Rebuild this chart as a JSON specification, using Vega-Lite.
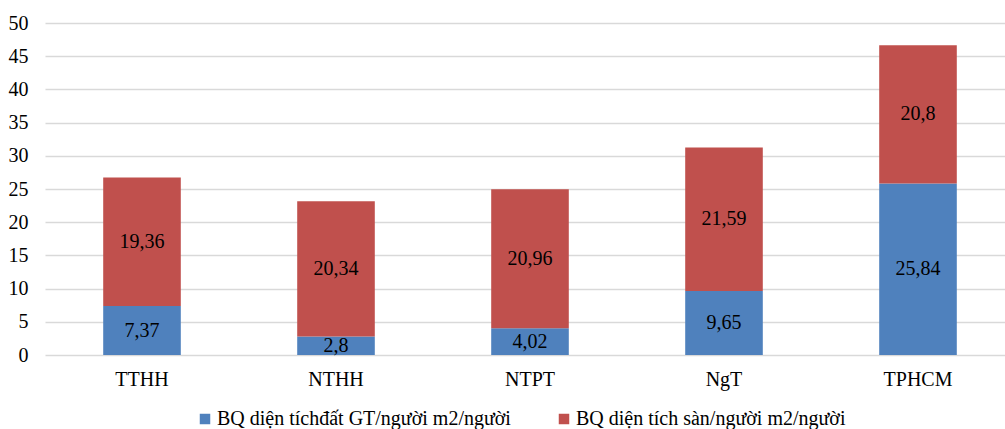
{
  "$schema": "https://vega.github.io/schema/vega-lite/v6.json",
  "autosize": "none",
  "width": 960,
  "height": 332,
  "padding": {"left": 45, "top": 23, "right": 0, "bottom": 74},
  "background": "white",
  "config": {
    "locale": {"number": {"decimal": ",", "thousands": ".", "grouping": [3], "currency": ["", ""]}},
    "font": "Liberation Serif",
    "view": {"stroke": null},
    "axis": {"labelFont": "Liberation Serif", "labelFontSize": 20, "labelColor": "#000000", "title": null, "labelOverlap": false},
    "legend": {"labelFont": "Liberation Serif", "labelFontSize": 20, "labelColor": "#000000"}
  },
  "data": {
    "values": [
      {"vung": "TTHH", "chi_tieu": "BQ diện tíchđất GT/người m2/người", "k": 1, "v": 7.37},
      {"vung": "TTHH", "chi_tieu": "BQ diện tích sàn/người m2/người", "k": 2, "v": 19.36},
      {"vung": "NTHH", "chi_tieu": "BQ diện tíchđất GT/người m2/người", "k": 1, "v": 2.8},
      {"vung": "NTHH", "chi_tieu": "BQ diện tích sàn/người m2/người", "k": 2, "v": 20.34},
      {"vung": "NTPT", "chi_tieu": "BQ diện tíchđất GT/người m2/người", "k": 1, "v": 4.02},
      {"vung": "NTPT", "chi_tieu": "BQ diện tích sàn/người m2/người", "k": 2, "v": 20.96},
      {"vung": "NgT", "chi_tieu": "BQ diện tíchđất GT/người m2/người", "k": 1, "v": 9.65},
      {"vung": "NgT", "chi_tieu": "BQ diện tích sàn/người m2/người", "k": 2, "v": 21.59},
      {"vung": "TPHCM", "chi_tieu": "BQ diện tíchđất GT/người m2/người", "k": 1, "v": 25.84},
      {"vung": "TPHCM", "chi_tieu": "BQ diện tích sàn/người m2/người", "k": 2, "v": 20.8}
    ]
  },
  "transform": [
    {"stack": "v", "groupby": ["vung"], "sort": [{"field": "k", "order": "ascending"}], "as": ["v0", "v1"]},
    {"calculate": "(datum.v0 + datum.v1) / 2", "as": "vmid"}
  ],
  "encoding": {
    "x": {
      "field": "vung",
      "type": "nominal",
      "sort": ["TTHH", "NTHH", "NTPT", "NgT", "TPHCM"],
      "scale": {"range": [0, 970], "paddingInner": 0.6, "paddingOuter": 0.3},
      "axis": {"labelAngle": 0, "ticks": false, "domain": false, "labelPadding": 24, "labelBaseline": "middle"}
    }
  },
  "layer": [
    {
      "mark": {"type": "bar"},
      "encoding": {
        "y": {
          "field": "v0",
          "type": "quantitative",
          "scale": {"domain": [0, 50]},
          "axis": {"values": [0, 5, 10, 15, 20, 25, 30, 35, 40, 45, 50], "format": "d", "domain": false, "ticks": false, "labelPadding": 17, "labelOverlap": false, "grid": true, "gridColor": "#d9d9d9", "gridWidth": 1.5}
        },
        "y2": {"field": "v1"},
        "color": {
          "field": "chi_tieu",
          "type": "nominal",
          "scale": {
            "domain": ["BQ diện tíchđất GT/người m2/người", "BQ diện tích sàn/người m2/người"],
            "range": ["#4f81bd", "#c0504d"]
          },
          "legend": {
            "title": null,
            "orient": "none",
            "direction": "horizontal",
            "legendX": 150,
            "legendY": 386,
            "symbolType": "square",
            "symbolSize": 110,
            "symbolStrokeWidth": 0,
            "symbolOpacity": 1,
            "labelFont": "Liberation Serif",
            "labelFontSize": 20,
            "labelColor": "#000000",
            "labelOffset": 2,
            "labelLimit": 500,
            "columnPadding": 43,
            "encode": {"labels": {"update": {"font": {"value": "Liberation Serif"}, "fontSize": {"value": 20}}}}
          }
        }
      }
    },
    {
      "mark": {"type": "text", "font": "Liberation Serif", "fontSize": 20, "color": "#000000", "baseline": "middle"},
      "encoding": {
        "y": {
          "field": "vmid",
          "type": "quantitative",
          "axis": {"values": [0, 5, 10, 15, 20, 25, 30, 35, 40, 45, 50], "format": "d", "domain": false, "ticks": false, "labelPadding": 17, "labelOverlap": false, "grid": true, "gridColor": "#d9d9d9", "gridWidth": 1.5}
        },
        "text": {"field": "v", "type": "quantitative", "format": "~g"}
      }
    }
  ]
}
